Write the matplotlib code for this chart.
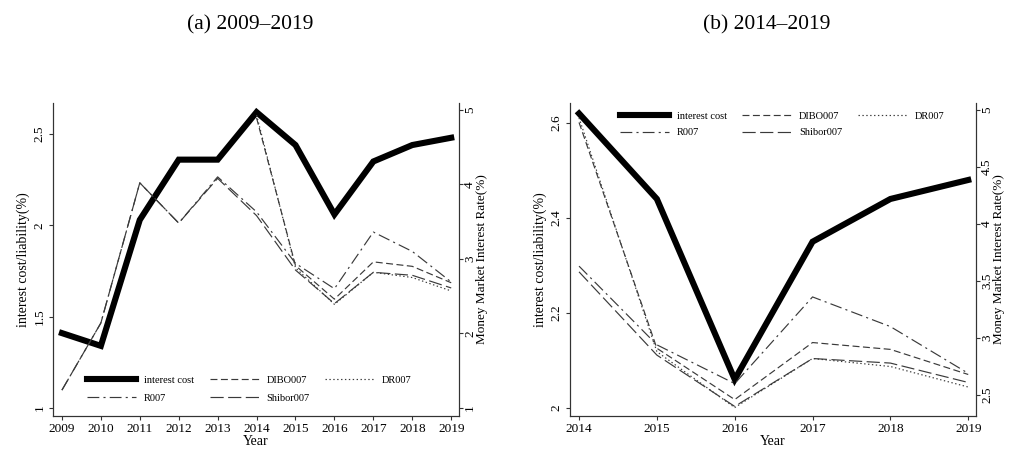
import numpy as np
import matplotlib
matplotlib.use("Agg")
import matplotlib.pyplot as plt

plt.rcParams['font.family'] = ['Liberation Serif', 'DejaVu Serif']
plt.rcParams['lines.scale_dashes'] = False

years = [2009, 2010, 2011, 2012, 2013, 2014, 2015, 2016, 2017, 2018, 2019]
interest_cost = [1.41, 1.34, 2.03, 2.36, 2.36, 2.62, 2.44, 2.06, 2.35, 2.44, 2.48]
r007 = [1.24, 2.14, 4.02, 3.48, 4.10, 3.63, 2.94, 2.60, 3.36, 3.10, 2.69]
shibor007 = [1.24, 2.14, 4.02, 3.48, 4.08, 3.58, 2.85, 2.40, 2.82, 2.78, 2.61]
dibo007 = [np.nan, np.nan, np.nan, np.nan, np.nan, 4.89, 2.91, 2.46, 2.96, 2.90, 2.68]
dr007 = [np.nan, np.nan, np.nan, np.nan, np.nan, 4.93, 2.88, 2.39, 2.82, 2.75, 2.57]

grey = '#3a3a3a'
styles = {
    'R007': dict(dashes=(8.5, 3, 1.5, 3)),
    'DIBO007': dict(dashes=(5, 2.5)),
    'Shibor007': dict(dashes=(9.5, 3.2)),
    'DR007': dict(dashes=(1, 1.8)),
}
rates = {'R007': r007, 'DIBO007': dibo007, 'Shibor007': shibor007, 'DR007': dr007}


def panel(rect, start, xlim, ylim_l, yticks_l, ylim_r, yticks_r, leg_anchor, leg_space, title):
    ax = fig.add_axes(rect)
    ax2 = ax.twinx()
    sl = slice(years.index(start), None)
    yrs = years[sl]

    ax.plot(yrs, interest_cost[sl], color='black', lw=4.4, solid_joinstyle='miter',
            label='interest cost', zorder=3)
    handles = {}
    for name, vals in rates.items():
        line, = ax2.plot(yrs, vals[sl], color=grey, lw=0.85, label=name, **styles[name])
        handles[name] = line

    ax.set_xlim(*xlim)
    ax.set_ylim(*ylim_l)
    ax.set_yticks(yticks_l)
    ax.set_yticklabels([f'{v:g}' for v in yticks_l])
    ax2.set_ylim(*ylim_r)
    ax2.set_yticks(yticks_r)
    ax2.set_yticklabels([f'{v:g}' for v in yticks_r])
    ax.set_xticks(yrs)

    for a in (ax, ax2):
        a.spines['top'].set_visible(False)
        a.tick_params(direction='out', length=3.2, width=0.8, labelsize=9.5, pad=2, color='#333333')
        for s in a.spines.values():
            s.set_color('#333333')
            s.set_linewidth(0.8)
    ax2.tick_params(axis='y', pad=0.5)
    for lab in ax.get_yticklabels() + ax2.get_yticklabels():
        lab.set_rotation(90)
        lab.set_va('center')

    ax.set_xlabel('Year', fontsize=10, labelpad=0)
    ax.set_ylabel('interest cost/liability(%)', fontsize=10, labelpad=3)
    ax2.set_ylabel('Money Market Interest Rate(%)', fontsize=9.5, labelpad=0)

    hs = [ax.get_lines()[0], handles['R007'], handles['DIBO007'],
          handles['Shibor007'], handles['DR007']]
    ax2.legend(handles=hs, labels=[h.get_label() for h in hs], ncol=3, frameon=False,
               loc='upper left', bbox_to_anchor=leg_anchor, borderpad=0, borderaxespad=0,
               fontsize=7.5, handlelength=4.7, handletextpad=0.75, columnspacing=1.5,
               labelspacing=leg_space)

    cx = rect[0] + rect[2] / 2
    fig.text(cx - 0.006, 0.945, title, ha='center', va='center', fontsize=15.5)


fig = plt.figure(figsize=(10.11, 4.49), dpi=100)

panel([0.0524, 0.0735, 0.4016, 0.697], 2009, (2008.77, 2019.2),
      (0.956, 2.67), [1, 1.5, 2, 2.5], (0.893, 5.09), [1, 2, 3, 4, 5],
      (0.084, 0.13), 0.85, '(a) 2009\u20132019')
panel([0.5638, 0.0735, 0.4016, 0.697], 2014, (2013.884, 2019.10),
      (1.983, 2.642), [2, 2.2, 2.4, 2.6], (2.316, 5.06), [2.5, 3, 3.5, 4, 4.5, 5],
      (0.123, 0.972), 0.65, '(b) 2014\u20132019')

fig.savefig('out.png', dpi=100)
